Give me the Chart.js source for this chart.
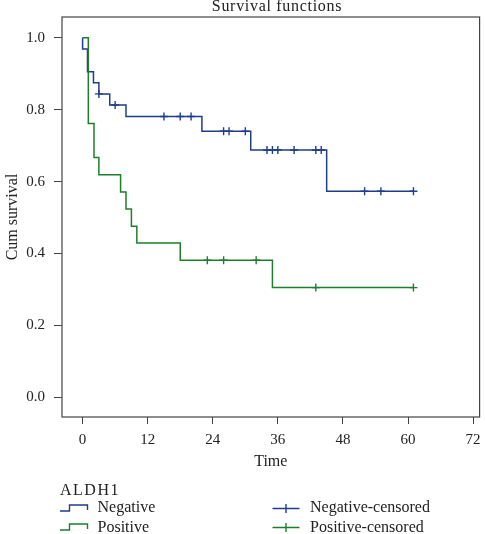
<!DOCTYPE html>
<html lang="en">
<head>
<meta charset="UTF-8">
<title>Survival functions</title>
<style>
  html, body { margin: 0; padding: 0; background: #fff; }
  canvas { display: block; }
</style>
</head>
<body>
<canvas id="km" width="485" height="534"></canvas>

<script src="https://cdn.jsdelivr.net/npm/chart.js@4.4.1/dist/chart.umd.min.js"></script>
<script>
// Kaplan-Meier steps (time, cum survival after the drop)
const negT = [0, 0, 0.9, 2, 3, 5, 8, 22, 31, 45, 61];
const negS = [1, 0.969, 0.906, 0.875, 0.844, 0.813, 0.781, 0.740, 0.688, 0.573, 0.573];
const posT = [0, 1.05, 2.1, 3, 7, 8, 9, 10, 18, 35, 61];
const posS = [1, 0.762, 0.667, 0.619, 0.571, 0.524, 0.476, 0.429, 0.381, 0.305, 0.305];

// censored observations
const negCensT = [3, 6, 15, 18, 20, 26, 27, 30, 34, 35, 36, 39, 43, 44, 52, 55, 61];
const negCensS = [0.844, 0.813, 0.781, 0.781, 0.781, 0.740, 0.740, 0.740, 0.688, 0.688, 0.688, 0.688, 0.688, 0.688, 0.573, 0.573, 0.573];
const posCensT = [23, 26, 32, 43, 61];
const posCensS = [0.381, 0.381, 0.381, 0.305, 0.305];

const xTicks = [0, 12, 24, 36, 48, 60, 72];
const yTicks = [0, 0.2, 0.4, 0.6, 0.8, 1.0];

const BLUE = '#1f3d8c';
const GREEN = '#1d7f2b';
const AXIS = '#444';
const FONT = "'Liberation Serif', 'Times New Roman', serif";

const pts = (xs, ys) => xs.map((x, i) => ({x: x, y: ys[i]}));

const frame = {
  id: 'frame',
  beforeDatasetsDraw(chart) {
    const {ctx, chartArea: a} = chart;
    ctx.save();
    ctx.strokeStyle = AXIS;
    ctx.lineWidth = 1.2;
    ctx.strokeRect(a.left, a.top, a.right - a.left, a.bottom - a.top);
    ctx.restore();
  }
};

const legendAndTitle = {
  id: 'legendAndTitle',
  afterDraw(chart) {
    const ctx = chart.ctx;
    ctx.save();
    ctx.fillStyle = '#222';
    ctx.textBaseline = 'alphabetic';
    ctx.font = '16px ' + FONT;
    ctx.textAlign = 'center';
    ctx.letterSpacing = '0.7px';
    ctx.fillText('Survival functions', 277, 10.7);

    ctx.textAlign = 'left';
    ctx.letterSpacing = '1.5px';
    ctx.fillText('ALDH1', 60, 494.5);
    ctx.letterSpacing = '0px';
    ctx.fillText('Negative', 97.5, 511.5);
    ctx.fillText('Positive', 97.5, 532);
    ctx.fillText('Negative-censored', 310, 511.5);
    ctx.fillText('Positive-censored', 310, 532);

    ctx.lineWidth = 1.4;
    const step = (c, y) => {
      ctx.strokeStyle = c;
      ctx.beginPath();
      ctx.moveTo(60, y + 6);
      ctx.lineTo(69.5, y + 6);
      ctx.lineTo(69.5, y);
      ctx.lineTo(87.5, y);
      ctx.lineTo(87.5, y + 5);
      ctx.stroke();
    };
    step(BLUE, 505);
    step(GREEN, 524);

    const cens = (c, y) => {
      ctx.strokeStyle = c;
      ctx.beginPath();
      ctx.moveTo(272.5, y);
      ctx.lineTo(299.5, y);
      ctx.moveTo(286, y - 4.5);
      ctx.lineTo(286, y + 4.5);
      ctx.stroke();
    };
    cens(BLUE, 508.5);
    cens(GREEN, 527.5);
    ctx.restore();
  }
};

new Chart(document.getElementById('km'), {
  type: 'line',
  data: {
    datasets: [
      {label: 'Positive', data: pts(posT, posS), stepped: 'before', borderColor: GREEN, borderWidth: 1.5, pointRadius: 0, fill: false, order: 1},
      {label: 'Negative', data: pts(negT, negS), stepped: 'before', borderColor: BLUE, borderWidth: 1.5, pointRadius: 0, fill: false, order: 2},
      {label: 'Negative-censored', data: pts(negCensT, negCensS), showLine: false, pointStyle: 'cross', pointRadius: 4, borderColor: BLUE, borderWidth: 1.4, order: 0},
      {label: 'Positive-censored', data: pts(posCensT, posCensS), showLine: false, pointStyle: 'cross', pointRadius: 4, borderColor: GREEN, borderWidth: 1.4, order: 0},
    ]
  },
  options: {
    responsive: false,
    devicePixelRatio: 1,
    animation: false,
    layout: {padding: {top: 17, right: 5, bottom: 60, left: 0}},
    plugins: {legend: {display: false}, tooltip: {enabled: false}},
    scales: {
      x: {
        type: 'linear', min: -3.8, max: 73.2,
        afterFit: s => { s.height = 57; s.paddingLeft = 0; s.paddingRight = 0; },
        afterBuildTicks: s => { s.ticks = xTicks.map(v => ({value: v})); },
        grid: {display: true, drawOnChartArea: false, drawTicks: true, tickLength: 7, color: AXIS},
        border: {display: false},
        ticks: {color: '#222', font: {family: FONT, size: 15}, padding: 7, maxRotation: 0},
        title: {display: true, text: 'Time', color: '#222', font: {family: FONT, size: 16}, padding: {top: 0, bottom: 3}}
      },
      y: {
        type: 'linear', min: -0.055, max: 1.058,
        afterFit: s => { s.width = 62; s.paddingTop = 0; s.paddingBottom = 0; },
        afterBuildTicks: s => { s.ticks = yTicks.map(v => ({value: v})); },
        grid: {display: true, drawOnChartArea: false, drawTicks: true, tickLength: 8, color: AXIS},
        border: {display: false},
        ticks: {color: '#222', font: {family: FONT, size: 15}, padding: 9, callback: v => Number(v).toFixed(1)},
        title: {display: true, text: 'Cum survival', color: '#222', font: {family: FONT, size: 16}, padding: {top: 3, bottom: 0}}
      }
    }
  },
  plugins: [frame, legendAndTitle]
});
</script>
</body>
</html>
